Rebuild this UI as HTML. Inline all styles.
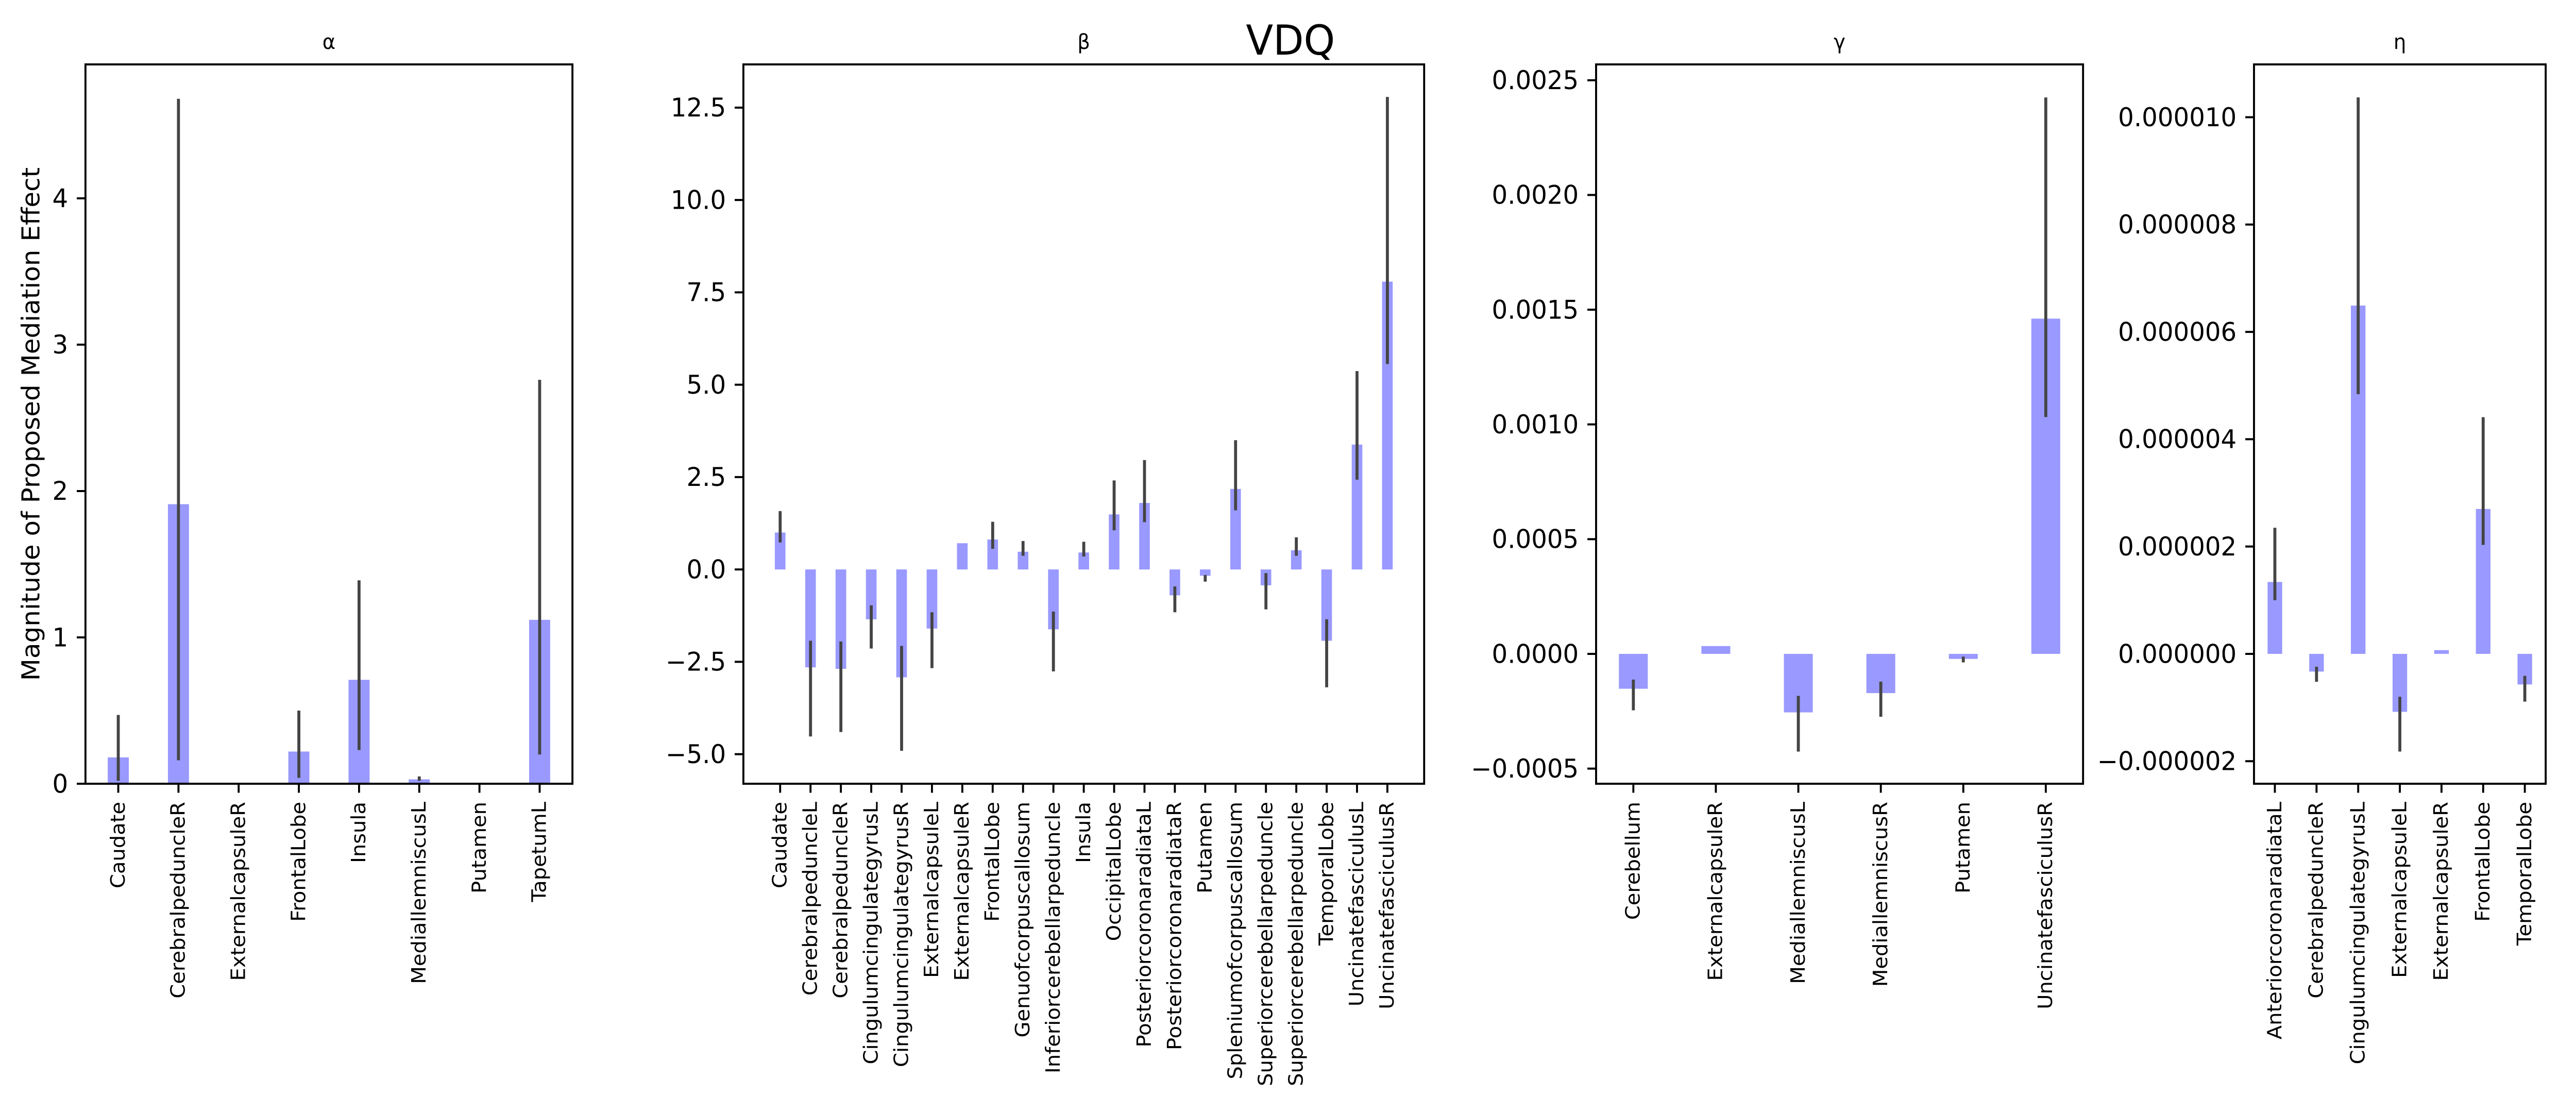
<!DOCTYPE html>
<html><head><meta charset="utf-8"><style>
html,body{margin:0;padding:0;background:#fff;width:100%;height:100%;overflow:hidden}
svg{display:block;width:100vw;height:100vh}
text{font-family:"DejaVu Sans","Liberation Sans",sans-serif;fill:#000}
</style></head><body>
<svg id="fig" viewBox="0 0 5184 2160" preserveAspectRatio="none" xmlns="http://www.w3.org/2000/svg">
<rect width="5184" height="2160" fill="#fff"/>
<text x="2597" y="106" font-size="80" text-anchor="middle">VDQ</text>
<text transform="translate(62,823) rotate(-90)" font-size="50" text-anchor="middle" dominant-baseline="central">Magnitude of Proposed Mediation Effect</text>
</svg>
<script>
// ---- alpha ----
const alphaCategories = ["Caudate","CerebralpeduncleR","ExternalcapsuleR","FrontalLobe","Insula","MediallemniscusL","Putamen","TapetumL"];
const alphaValues = [0.18,1.91,0,0.22,0.71,0.03,0.005,1.12];
const alphaErrLow = [0.02,0.16,null,0.04,0.23,0.02,null,0.20];
const alphaErrHigh = [0.47,4.68,null,0.50,1.39,0.05,null,2.76];
const alphaTicks = [0,1,2,3,4];
const alphaTickLabels = ["0","1","2","3","4"];
// ---- beta ----
const betaCategories = ["Caudate","CerebralpeduncleL","CerebralpeduncleR","CingulumcingulategyrusL","CingulumcingulategyrusR","ExternalcapsuleL","ExternalcapsuleR","FrontalLobe","Genuofcorpuscallosum","Inferiorcerebellarpeduncle","Insula","OccipitalLobe","PosteriorcoronaradiataL","PosteriorcoronaradiataR","Putamen","Spleniumofcorpuscallosum","Superiorcerebellarpeduncle","Superiorcerebellarpeduncle","TemporalLobe","UncinatefasciculusL","UncinatefasciculusR"];
const betaValues = [1.0,-2.65,-2.69,-1.35,-2.92,-1.6,0.71,0.81,0.48,-1.62,0.46,1.49,1.80,-0.70,-0.17,2.18,-0.43,0.52,-1.93,3.38,7.79];
const betaErrLow = [0.73,-4.52,-4.40,-2.14,-4.91,-2.67,null,0.56,0.37,-2.76,0.35,1.06,1.28,-1.16,-0.33,1.60,-1.08,0.37,-3.19,2.43,5.56];
const betaErrHigh = [1.58,-1.93,-1.95,-0.97,-2.07,-1.16,null,1.29,0.77,-1.14,0.75,2.41,2.96,-0.46,-0.15,3.50,-0.10,0.87,-1.35,5.37,12.79];
const betaTicks = [-5,-2.5,0,2.5,5,7.5,10,12.5];
const betaTickLabels = ["−5.0","−2.5","0.0","2.5","5.0","7.5","10.0","12.5"];
// ---- gamma ----
const gammaCategories = ["Cerebellum","ExternalcapsuleR","MediallemniscusL","MediallemniscusR","Putamen","UncinatefasciculusR"];
const gammaValues = [-0.000152,0.000034,-0.000255,-0.000171,-0.000022,0.001461];
const gammaErrLow = [-0.000246,null,-0.000426,-0.000274,-0.000037,0.001032];
const gammaErrHigh = [-0.000112,null,-0.000183,-0.000121,-0.000012,0.002425];
const gammaTicks = [-0.0005,0,0.0005,0.001,0.0015,0.002,0.0025];
const gammaTickLabels = ["−0.0005","0.0000","0.0005","0.0010","0.0015","0.0020","0.0025"];
// ---- eta ----
const etaCategories = ["AnteriorcoronaradiataL","CerebralpeduncleR","CingulumcingulategyrusL","ExternalcapsuleL","ExternalcapsuleR","FrontalLobe","TemporalLobe"];
const etaValues = [1.34e-6,-0.33e-6,6.49e-6,-1.08e-6,0.07e-6,2.70e-6,-0.57e-6];
const etaErrLow = [1.0e-6,-0.52e-6,4.84e-6,-1.82e-6,null,2.03e-6,-0.89e-6];
const etaErrHigh = [2.35e-6,-0.24e-6,10.37e-6,-0.80e-6,null,4.41e-6,-0.41e-6];
const etaTicks = [-2e-6,0,2e-6,4e-6,6e-6,8e-6,10e-6];
const etaTickLabels = ["−0.000002","0.000000","0.000002","0.000004","0.000006","0.000008","0.000010"];

const NS="http://www.w3.org/2000/svg";
const svg=document.getElementById('fig');
function mk(tag,attrs,parent){const e=document.createElementNS(NS,tag);for(const k in attrs)e.setAttribute(k,attrs[k]);(parent||svg).appendChild(e);return e;}

function panel(cfg){
  const {name,title,left,right,top,bottom,ymin,ymax,pad,cats,vals,lo,hi,ticks,tickLabels}=cfg;
  const g=mk('g',{});
  
  
  const n=cats.length;
  const step=(right-left-2*pad)/(n-1);
  const xs=i=>left+pad+i*step;
  const ys=v=>bottom-(v-ymin)/(ymax-ymin)*(bottom-top);
  const bw=step*0.35;
  for(let i=0;i<n;i++){
    const y0=ys(0), y1=ys(vals[i]);
    const r=mk('rect',{x:xs(i)-bw/2,y:Math.min(y0,y1),width:bw,height:Math.max(Math.abs(y1-y0),0.5),fill:'#9999ff'},g);
    
    
  }
  for(let i=0;i<n;i++){
    if(lo[i]===null) continue;
    const l=mk('line',{x1:xs(i),x2:xs(i),y1:ys(lo[i]),y2:ys(hi[i]),stroke:'#444444','stroke-width':6},g);
    
    
  }
  const fr=mk('rect',{x:left,y:top,width:right-left,height:bottom-top,fill:'none',stroke:'#000','stroke-width':4},g);
  
  
  for(let i=0;i<ticks.length;i++){
    const y=ys(ticks[i]);
    mk('line',{x1:left-17.5,x2:left,y1:y,y2:y,stroke:'#000','stroke-width':4},g);
    const t=mk('text',{x:left-35,y:y,'font-size':50,'text-anchor':'end','dominant-baseline':'central'},g);
    t.textContent=tickLabels[i];
    
    
  }
  for(let i=0;i<n;i++){
    const x=xs(i);
    mk('line',{x1:x,x2:x,y1:bottom,y2:bottom+17.5,stroke:'#000','stroke-width':4},g);
    const t=mk('text',{transform:`translate(${x},${bottom+35}) rotate(-90)`,'font-size':40,'text-anchor':'end','dominant-baseline':'central'},g);
    t.textContent=cats[i];
    
    
  }
  const tt=mk('text',{x:(left+right)/2,y:top-30,'font-size':40,'text-anchor':'middle'},g);
  tt.textContent=title;
  
  
}
panel({name:'alpha',title:'α',left:172,right:1152,top:125,bottom:1521,ymin:0,ymax:4.915,pad:66,cats:alphaCategories,vals:alphaValues,lo:alphaErrLow,hi:alphaErrHigh,ticks:alphaTicks,tickLabels:alphaTickLabels});
panel({name:'beta',title:'β',left:1496,right:2866,top:125,bottom:1521,ymin:-5.80,ymax:13.67,pad:74,cats:betaCategories,vals:betaValues,lo:betaErrLow,hi:betaErrHigh,ticks:betaTicks,tickLabels:betaTickLabels});
panel({name:'gamma',title:'γ',left:3212,right:4192,top:125,bottom:1521,ymin:-0.000566,ymax:0.002569,pad:75,cats:gammaCategories,vals:gammaValues,lo:gammaErrLow,hi:gammaErrHigh,ticks:gammaTicks,tickLabels:gammaTickLabels});
panel({name:'eta',title:'η',left:4536,right:5123,top:125,bottom:1521,ymin:-2.42e-6,ymax:1.0984e-5,pad:42,cats:etaCategories,vals:etaValues,lo:etaErrLow,hi:etaErrHigh,ticks:etaTicks,tickLabels:etaTickLabels});
</script>
</body></html>
